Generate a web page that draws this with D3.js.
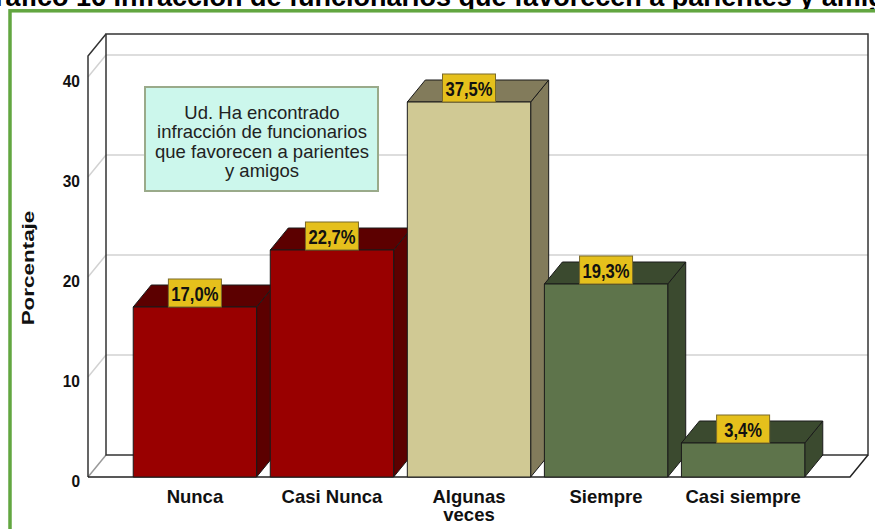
<!DOCTYPE html>
<html>
<head>
<meta charset="utf-8">
<script src="https://cdn.jsdelivr.net/npm/d3@7"></script>
<style>
  body { margin: 0; background: #fff; }
  svg { display: block; font-family: "Liberation Sans", Arial, sans-serif; }
</style>
</head>
<body>
<div id="chart"></div>
<script>
// data
const categories = ["Nunca", "Casi Nunca", "Algunas\nveces", "Siempre", "Casi siempre"]
const percents = [17.0, 22.7, 37.5, 19.3, 3.4]
const yTicks = [0, 10, 20, 30, 40]
const frontColors = ["#990000", "#990000", "#d0c994", "#5e744b", "#5e744b"]
const sideColors = ["#5c0000", "#5c0000", "#827b5b", "#3b4a2f", "#3b4a2f"]
const noteLines = ["Ud. Ha encontrado", "infracción de funcionarios", "que favorecen a parientes", "y amigos"]
const titleText = "Gráfico 16 Infracción de funcionarios que favorecen a parientes y amigos"
const yLabel = "Porcentaje"

const width = 875,
    height = 529,
    depth = { x: 18, y: 22 },
    yMax = 42.1

const fmt = d3.formatLocale({ decimal: ",", thousands: ".", grouping: [3], currency: ["", ""] }).format(".1f")

const x = d3.scaleBand()
    .domain(categories)
    .range([88, 850])
    .paddingInner(0.1)
    .paddingOuter(0.33)

const y = d3.scaleLinear()
    .domain([0, 40])
    .range([477, 77])

const svg = d3.select("#chart").append("svg")
    .attr("width", width)
    .attr("height", height)

// title, mostly cut off at the top of the picture
svg.append("text")
    .attr("x", -26)
    .attr("y", 6)
    .attr("font-size", 27)
    .attr("font-weight", "bold")
    .text(titleText)

svg.append("rect")
    .attr("x", 10)
    .attr("y", 10.8)
    .attr("width", 950)
    .attr("height", 600)
    .attr("fill", "none")
    .attr("stroke", "#62a640")
    .attr("stroke-width", 3.5)

const x0 = x.range()[0], x1 = x.range()[1]
const back = (px, py) => [px + depth.x, py - depth.y]

// walls
const walls = svg.append("g")
walls.append("rect")
    .attr("x", x0 + depth.x)
    .attr("y", y(yMax) - depth.y)
    .attr("width", x1 - x0)
    .attr("height", y(0) - y(yMax))
    .attr("fill", "#fff")

const grid = svg.append("g")
    .attr("stroke", "#d2d2d2")
    .attr("stroke-width", 1.5)
grid.selectAll("line.back")
    .data(yTicks.slice(1))
    .join("line")
    .attr("class", "back")
    .attr("x1", x0 + depth.x).attr("x2", x1 + depth.x)
    .attr("y1", d => y(d) - depth.y).attr("y2", d => y(d) - depth.y)
grid.selectAll("line.side")
    .data(yTicks)
    .join("line")
    .attr("class", "side")
    .attr("x1", x0).attr("y1", d => y(d))
    .attr("x2", x0 + depth.x).attr("y2", d => y(d) - depth.y)
    .attr("stroke", d => d === 0 ? "#999" : null)

const frame = svg.append("g")
    .attr("fill", "none")
    .attr("stroke", "#333")
    .attr("stroke-width", 1.5)
frame.append("rect")
    .attr("x", x0 + depth.x)
    .attr("y", y(yMax) - depth.y)
    .attr("width", x1 - x0)
    .attr("height", y(0) - y(yMax))
frame.append("path")
    .attr("d", d3.line()([[x0, y(0)], [x0, y(yMax)], back(x0, y(yMax))]))
frame.append("path")
    .attr("d", d3.line()([[x0, y(0)], [x1, y(0)], back(x1, y(0))]))
    .attr("stroke", "#222")

// bars
const barG = svg.append("g")
    .attr("stroke", "#1a1a1a")
    .attr("stroke-width", 1)
    .attr("stroke-linejoin", "round")

categories.forEach((c, i) => {
    const v = percents[i],
        bx0 = x(c), bx1 = x(c) + x.bandwidth(),
        top = y(v), base = y(0)
    const g = barG.append("g")
    g.append("path")
        .attr("fill", sideColors[i])
        .attr("d", d3.line()([[bx1, top], back(bx1, top), back(bx1, base), [bx1, base]]) + "Z")
    g.append("path")
        .attr("fill", sideColors[i])
        .attr("d", d3.line()([[bx0, top], back(bx0, top), back(bx1, top), [bx1, top]]) + "Z")
    g.append("rect")
        .attr("fill", frontColors[i])
        .attr("x", bx0)
        .attr("y", top)
        .attr("width", bx1 - bx0)
        .attr("height", base - top)
})

// value labels
const labels = svg.append("g")
    .selectAll("g")
    .data(categories)
    .join("g")
    .attr("transform", (c, i) => `translate(${x(c) + x.bandwidth() / 2},${y(percents[i])})`)
labels.append("rect")
    .attr("x", -26.5)
    .attr("y", -28)
    .attr("width", 53)
    .attr("height", 28)
    .attr("fill", "#e5c01c")
    .attr("stroke", "#7a6a2a")
    .attr("stroke-width", 1)
labels.append("text")
    .attr("transform", "translate(0,-6) scale(1,1.2)")
    .attr("text-anchor", "middle")
    .attr("font-size", 16.6)
    .attr("font-weight", "bold")
    .attr("fill", "#111")
    .text((c, i) => fmt(percents[i]) + "%")

// category axis labels
svg.append("g")
    .selectAll("text")
    .data(categories)
    .join("text")
    .attr("text-anchor", "middle")
    .attr("font-size", 18.5)
    .attr("font-weight", "bold")
    .attr("fill", "#111")
    .each(function (c) {
        d3.select(this).selectAll("tspan")
            .data(c.split("\n"))
            .join("tspan")
            .attr("x", x(c) + x.bandwidth() / 2)
            .attr("y", (d, j) => 503 + j * 18)
            .text(d => d)
    })

// y tick labels
svg.append("g")
    .selectAll("text")
    .data(yTicks)
    .join("text")
    .attr("transform", d => `translate(80,${y(d) + 9.5}) scale(1,1.1)`)
    .attr("text-anchor", "end")
    .attr("font-size", 15.5)
    .attr("font-weight", "bold")
    .attr("fill", "#111")
    .text(d => d)

svg.append("text")
    .attr("transform", "translate(34,268) rotate(-90) scale(1.32,1)")
    .attr("text-anchor", "middle")
    .attr("font-size", 17)
    .attr("font-weight", "bold")
    .attr("fill", "#111")
    .text(yLabel)

// note box
const note = svg.append("g")
note.append("rect")
    .attr("x", 145)
    .attr("y", 87)
    .attr("width", 233)
    .attr("height", 104)
    .attr("fill", "#ccf7ec")
    .attr("stroke", "#9aaa8a")
    .attr("stroke-width", 2)
note.append("text")
    .attr("text-anchor", "middle")
    .attr("font-size", 18.5)
    .attr("fill", "#222")
    .selectAll("tspan")
    .data(noteLines)
    .join("tspan")
    .attr("x", 262)
    .attr("y", (d, i) => 119 + i * 19.3)
    .text(d => d)
</script>
</body>
</html>
